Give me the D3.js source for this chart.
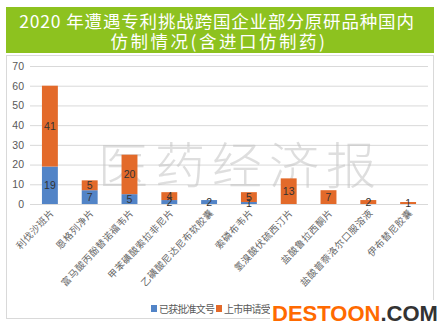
<!DOCTYPE html>
<html><head><meta charset="utf-8">
<script src="https://cdn.jsdelivr.net/npm/d3@7/dist/d3.min.js"></script>
<style>
body{margin:0;background:#fff;}
svg{display:block;font-family:"Noto Sans CJK SC","Noto Sans",sans-serif;}
</style></head><body>
<svg id="c" width="444" height="331"></svg>
<script>
const categories = ["利伐沙班片","恩格列净片","富马酸丙酚替诺福韦片","甲苯磺酸索拉非尼片","乙磺酸尼达尼布软胶囊","索磷布韦片","氢溴酸伏硫西汀片","盐酸鲁拉西酮片","盐酸普萘洛尔口服溶液","伊布替尼胶囊"];
const approved = [19,7,5,2,2,1,0,0,0,0];
const accepted = [41,5,20,4,0,5,13,7,2,1];
const yTicks = [0,10,20,30,40,50,60,70];
const seriesNames = ["已获批准文号","上市申请受理"];
const colors = ["#5284c7","#e36a2a"];
const titleLines = ["2020 年遭遇专利挑战跨国企业部分原研品种国内","仿制情况(含进口仿制药)"];

const svg = d3.select("#c");
// title
svg.append("rect").attr("x",6).attr("y",7).attr("width",428).attr("height",46).attr("fill","#8dc21f");
svg.append("text").attr("x",217).attr("y",28).attr("text-anchor","middle").attr("fill","#fff")
  .attr("font-size",17.5).attr("letter-spacing",0.85).text(titleLines[0]);
svg.append("text").attr("x",219).attr("y",48).attr("text-anchor","middle").attr("fill","#fff")
  .attr("font-size",17.5).attr("letter-spacing",2.5).text(titleLines[1]);
// frame
svg.append("rect").attr("x",6.5).attr("y",55.5).attr("width",427).attr("height",263).attr("fill","#fff").attr("stroke","#d9d9d9");

const x = d3.scaleBand().domain(categories).range([30,428]).paddingInner(0.6).paddingOuter(0.3);
const y = d3.scaleLinear().domain([0,70]).range([204,66]);

// grid
svg.append("g").selectAll("line").data(yTicks).join("line")
  .attr("x1",30).attr("x2",428).attr("y1",d=>y(d)+0.5).attr("y2",d=>y(d)+0.5)
  .attr("stroke","#d9d9d9");
// y axis labels
const ya = svg.append("g").attr("transform","translate(30,0)")
  .call(d3.axisLeft(y).tickValues(yTicks).tickSize(0).tickPadding(6));
ya.select(".domain").remove();
ya.selectAll("text").attr("font-size",10.5).attr("fill","#595959").attr("font-family","Liberation Sans, Arial, sans-serif");

// watermark
svg.append("text").attr("x",98).attr("y",184).attr("font-size",50).attr("fill","#c4c4c4").attr("opacity",0.55)
  .attr("letter-spacing",7).attr("font-weight",300).text("医药经济报");

// bars
const stacked = d3.stack().keys([0,1]).value((d,k)=>k===0?d.a:d.b)(categories.map((c,i)=>({c,a:approved[i],b:accepted[i]})));
stacked.forEach((s,k)=>{
  svg.append("g").selectAll("rect").data(s).join("rect")
    .attr("x",d=>x(d.data.c)).attr("width",x.bandwidth())
    .attr("y",d=>y(d[1])).attr("height",d=>y(d[0])-y(d[1]))
    .attr("fill",colors[k]);
});
stacked.forEach((s,k)=>{
  svg.append("g").selectAll("text").data(s.filter(d=>d[1]-d[0]>0)).join("text")
    .attr("x",d=>x(d.data.c)+x.bandwidth()/2).attr("y",d=>(y(d[0])+y(d[1]))/2+4)
    .attr("text-anchor","middle").attr("font-size",10.5).attr("fill","#333")
    .attr("font-family","Liberation Sans, Arial, sans-serif")
    .text(d=>d[1]-d[0]);
});

// x labels
svg.append("g").selectAll("text").data(categories).join("text")
  .attr("transform",d=>`translate(${x(d)+x.bandwidth()/2+5},${213}) rotate(-47)`)
  .attr("text-anchor","end").attr("font-size",9.5).attr("letter-spacing",0.6).attr("fill","#666").text(d=>d);

// legend
const lg = svg.append("g");
[0,1].forEach(k=>{
  const lx = k===0?151:216;
  lg.append("rect").attr("x",lx).attr("y",305).attr("width",6).attr("height",7).attr("fill",colors[k]);
  lg.append("text").attr("x",lx+8).attr("y",313).attr("font-size",10).attr("letter-spacing",-0.8).attr("fill","#595959").text(seriesNames[k]);
});

// DESTOON watermark
svg.append("rect").attr("x",270).attr("y",300).attr("width",166).attr("height",22).attr("fill","#fff");
const dt = svg.append("text").attr("x",272).attr("y",321).attr("font-size",22).attr("font-weight","bold")
  .attr("font-family","Liberation Sans, Arial, sans-serif");
dt.append("tspan").attr("fill","#ff6a00").text("DESTOON");
dt.append("tspan").attr("fill","#333").text(".COM");
</script></body></html>
